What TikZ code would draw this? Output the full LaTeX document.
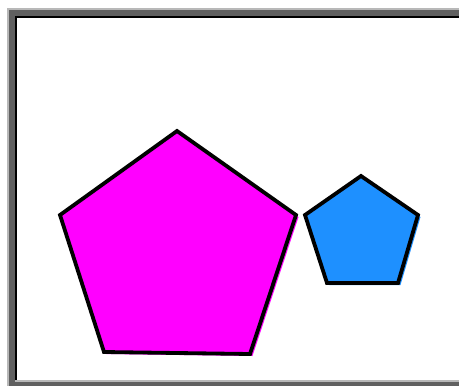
\documentclass[tikz,border=0pt]{standalone}
\usepackage{tikz}
\definecolor{framedark}{RGB}{96,96,96}
\definecolor{framelight}{RGB}{184,184,184}
\definecolor{penta}{RGB}{255,0,255}
\definecolor{pentb}{RGB}{30,144,255}
\tikzset{edge/.style={black, line width=3.8pt, line join=miter}}
\begin{document}
\begin{tikzpicture}[x=1pt, y=-1pt]
    \useasboundingbox (0,0) rectangle (459,386);
    %, frame ---
    \fill[framelight] (7,8) rectangle (459,386);
    \fill[framedark] (9,10) rectangle (459,386);
    \fill[framelight] (15,380) rectangle (459,382);
    \fill[black] (15,16) rectangle (459,380);
    \fill[white] (17,18) rectangle (459,380);

    %, big pentagon ---
    \foreach \s in {0,2.5}
        \fill[penta, shift={(\s,0.8*\s)}] (177,131) -- (296,215) -- (250,354) -- (104,352) -- (60,215) -- cycle;
    \draw[edge] (177,131) -- (296,215) -- (250,354) -- (104,352) -- (60,215) -- cycle;

    %, small pentagon ---
    \foreach \s in {0,2.5}
        \fill[pentb, shift={(\s,0.8*\s)}] (361,176) -- (418,215) -- (398,283) -- (327,283) -- (305,215) -- cycle;
    \draw[edge] (361,176) -- (418,215) -- (398,283) -- (327,283) -- (305,215) -- cycle;
\end{tikzpicture}
\end{document}
